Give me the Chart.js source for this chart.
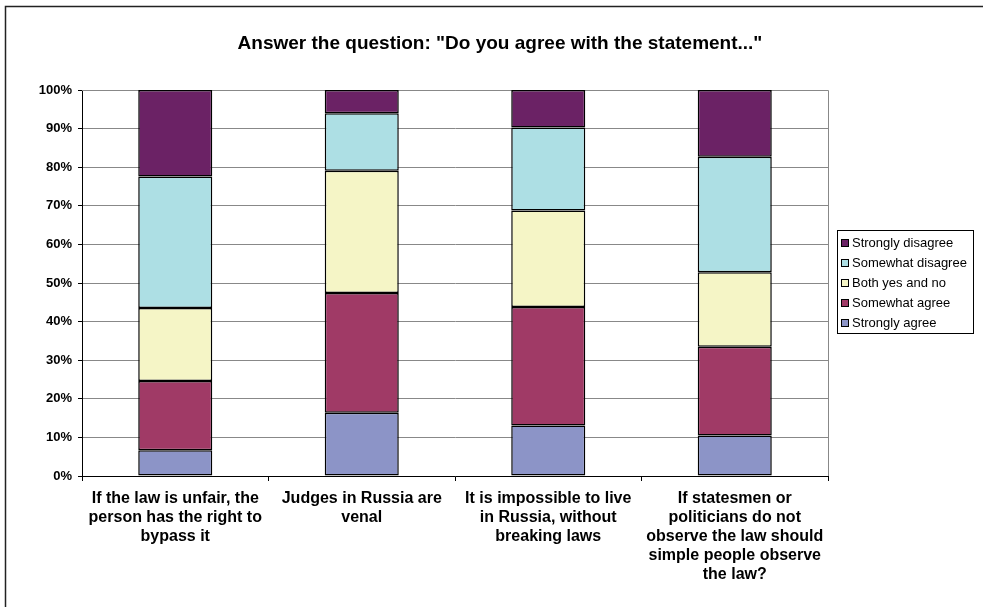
<!DOCTYPE html>
<html>
<head>
<meta charset="utf-8">
<script src="https://cdn.jsdelivr.net/npm/chart.js@4"></script>
<style>
  html, body { margin: 0; padding: 0; background: #fff; }
  #wrap { width: 983px; height: 607px; }
</style>
</head>
<body>
<div id="wrap"><canvas id="grafico" width="983" height="607"></canvas></div>
<script>
// =====================
// Dados
// =====================
const titulo = 'Answer the question: "Do you agree with the statement..."';

const categorias = [
  ["If the law is unfair, the", "person has the right to", "bypass it"],
  ["Judges in Russia are", "venal"],
  ["It is impossible to live", "in Russia, without", "breaking laws"],
  ["If statesmen or", "politicians do not", "observe the law should", "simple people observe", "the law?"],
];

const stronglyAgree = [6.7, 16.4, 13.1, 10.5];
const somewhatAgree = [17.9, 31.0, 30.7, 23.0];
const bothYesNo = [18.9, 31.7, 25.0, 19.3];
const somewhatDisagree = [34.1, 14.9, 21.5, 29.9];
const stronglyDisagree = [22.4, 6.0, 9.7, 17.3];

const yTicks = [0, 10, 20, 30, 40, 50, 60, 70, 80, 90, 100];

// =====================
// Plugin: fundo, moldura, título e legenda
// =====================
const molduraPlugin = {
  id: "moldura",
  beforeDraw(chart) {
    const ctx = chart.ctx;
    ctx.save();
    ctx.fillStyle = "#fff";
    ctx.fillRect(0, 0, chart.width, chart.height);
    ctx.strokeStyle = "#222";
    ctx.lineWidth = 1.5;
    ctx.beginPath();
    ctx.moveTo(5.5, chart.height);
    ctx.lineTo(5.5, 6.5);
    ctx.lineTo(chart.width, 6.5);
    ctx.stroke();
    ctx.restore();
  },
  beforeDatasetsDraw(chart) {
    // borda cinza do plot (topo e direita)
    const { ctx, chartArea: a } = chart;
    ctx.save();
    ctx.strokeStyle = "#888";
    ctx.lineWidth = 1;
    ctx.beginPath();
    ctx.moveTo(a.left, a.top + 0.5);
    ctx.lineTo(a.right + 0.5, a.top + 0.5);
    ctx.lineTo(a.right + 0.5, a.bottom);
    ctx.stroke();
    ctx.restore();
  },
  afterDraw(chart) {
    const ctx = chart.ctx;
    ctx.save();

    // título
    ctx.fillStyle = "#000";
    ctx.font = "bold 19px 'Liberation Sans', Arial, sans-serif";
    ctx.textAlign = "center";
    ctx.textBaseline = "middle";
    ctx.fillText(titulo, 500, 44);

    // legenda (ordem invertida, como nas barras)
    const lx = 837, ly = 230, lw = 136, lh = 103;
    ctx.strokeStyle = "#000";
    ctx.lineWidth = 1;
    ctx.strokeRect(lx + 0.5, ly + 0.5, lw, lh);

    ctx.font = "13px 'Liberation Sans', Arial, sans-serif";
    ctx.textAlign = "left";
    const ds = chart.data.datasets.slice().reverse();
    ds.forEach((d, i) => {
      const cy = ly + 13 + i * 20;
      ctx.fillStyle = d.backgroundColor;
      ctx.fillRect(lx + 4, cy - 4, 8, 8);
      ctx.strokeStyle = "#000";
      ctx.strokeRect(lx + 4.5, cy - 3.5, 7, 7);
      ctx.fillStyle = "#000";
      ctx.fillText(d.label, lx + 15, cy);
    });
    ctx.restore();
  },
};

// =====================
// Gráfico
// =====================
const ctx = document.getElementById("grafico").getContext("2d");

const serie = (label, data, cor) => ({
  label,
  data,
  backgroundColor: cor,
  borderColor: "#000",
  borderWidth: 1.5,
  borderSkipped: false,
  barPercentage: 0.397,
  categoryPercentage: 1,
});

new Chart(ctx, {
  type: "bar",
  data: {
    labels: categorias,
    datasets: [
      serie("Strongly agree", stronglyAgree, "#8c94c7"),
      serie("Somewhat agree", somewhatAgree, "#a03a66"),
      serie("Both yes and no", bothYesNo, "#f5f5c6"),
      serie("Somewhat disagree", somewhatDisagree, "#addfe4"),
      serie("Strongly disagree", stronglyDisagree, "#6b2265"),
    ],
  },
  options: {
    responsive: false,
    animation: false,
    layout: { padding: { top: 90, right: 155, left: 0, bottom: 0 } },
    plugins: {
      legend: { display: false },
      title: { display: false },
      tooltip: { enabled: false },
    },
    scales: {
      x: {
        stacked: true,
        afterFit(axis) { axis.height = 131; },
        grid: {
          offset: true,
          drawOnChartArea: false,
          tickLength: 5,
          color: "#000",
        },
        border: { color: "#000", width: 1 },
        ticks: {
          autoSkip: false,
          maxRotation: 0,
          padding: 8,
          color: "#000",
          font: { family: "'Liberation Sans', Arial, sans-serif", size: 16, weight: "bold", lineHeight: 1.19 },
        },
      },
      y: {
        stacked: true,
        min: 0,
        max: 100,
        afterFit(axis) { axis.width = 82; },
        afterBuildTicks(axis) { axis.ticks = yTicks.map((v) => ({ value: v })); },
        grid: { color: "#888", tickLength: 4, tickColor: "#000" },
        border: { color: "#000", width: 1 },
        ticks: {
          padding: 6,
          color: "#000",
          font: { family: "'Liberation Sans', Arial, sans-serif", size: 13, weight: "bold" },
          callback: (v) => v + "%",
        },
      },
    },
  },
  plugins: [molduraPlugin],
});
</script>
</body>
</html>
